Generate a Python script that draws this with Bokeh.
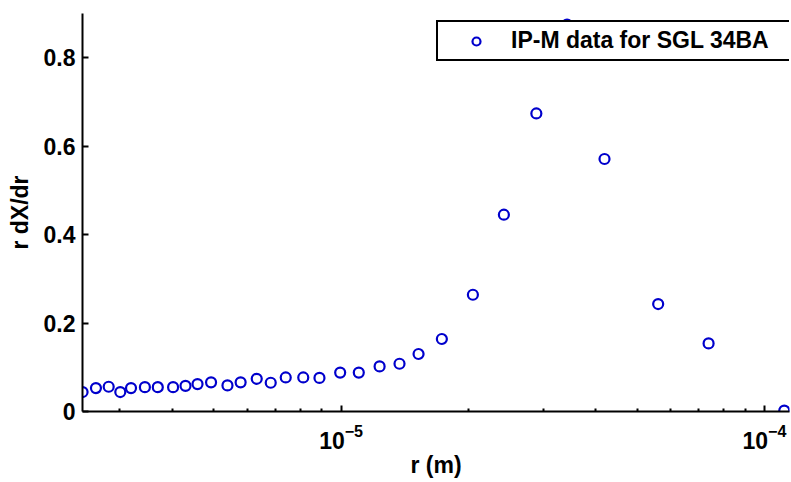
from bokeh.plotting import figure
from bokeh.models import (ColumnDataSource, FixedTicker, LogTickFormatter,
                          CustomJSTickFormatter, Range1d, Legend, LegendItem)
from bokeh.embed import file_html
from bokeh.resources import INLINE

# ---- data ----
r_m = [2.451e-6, 2.636e-6, 2.825e-6, 3.009e-6, 3.19e-6, 3.44e-6, 3.69e-6,
       4.01e-6, 4.29e-6, 4.58e-6, 4.93e-6, 5.39e-6, 5.79e-6, 6.32e-6,
       6.82e-6, 7.40e-6, 8.14e-6, 8.89e-6, 9.95e-6, 1.101e-5, 1.233e-5,
       1.374e-5, 1.524e-5, 1.73e-5, 2.048e-5, 2.424e-5, 2.892e-5, 3.418e-5,
       4.19e-5, 5.61e-5, 7.38e-5, 1.114e-4]
r_dXdr = [0.044, 0.053, 0.056, 0.044, 0.053, 0.055, 0.055, 0.055, 0.058,
          0.062, 0.066, 0.059, 0.066, 0.074, 0.065, 0.077, 0.077, 0.076,
          0.088, 0.088, 0.102, 0.108, 0.130, 0.164, 0.264, 0.445, 0.674,
          0.875, 0.571, 0.243, 0.154, 0.002]
series_label = "IP-M data for SGL 34BA"
x_major_ticks = [1e-5, 1e-4]
x_minor_ticks = [2e-6, 3e-6, 4e-6, 5e-6, 6e-6, 7e-6, 8e-6, 9e-6,
                 2e-5, 3e-5, 4e-5, 5e-5, 6e-5, 7e-5, 8e-5, 9e-5]
y_ticks = [0, 0.2, 0.4, 0.6, 0.8]

FONT = "Liberation Sans"
BLUE = "#0000cc"

src = ColumnDataSource(dict(x=r_m, y=r_dXdr))

p = figure(width=791, height=482, x_axis_type="log",
           x_range=Range1d(2.45e-6, 1.146e-4), y_range=Range1d(0, 0.9),
           output_backend="svg", toolbar_location=None,
           min_border_left=82, min_border_right=2, min_border_top=13,
           min_border_bottom=71)
p.outline_line_color = None
p.grid.visible = False
p.background_fill_color = "white"
p.border_fill_color = "white"

r = p.scatter("x", "y", source=src, marker="circle", size=10,
              fill_color=None, line_color=BLUE, line_width=2.2)

# axes
xa = p.xaxis[0]
xa.ticker = FixedTicker(ticks=x_major_ticks, minor_ticks=x_minor_ticks)
xa.formatter = LogTickFormatter()
ya = p.yaxis[0]
ya.ticker = FixedTicker(ticks=y_ticks)
ya.formatter = CustomJSTickFormatter(code="return tick == 0 ? '0' : tick.toFixed(1);")

for ax in (xa, ya):
    ax.axis_line_width = 2
    ax.axis_line_color = "black"
    ax.major_tick_line_width = 2
    ax.major_tick_line_color = "black"
    ax.minor_tick_line_width = 2
    ax.major_tick_in = 6
    ax.major_tick_out = 0
    ax.minor_tick_in = 3
    ax.minor_tick_out = 0
    ax.major_label_text_font = FONT
    ax.major_label_text_font_style = "bold"
    ax.major_label_text_font_size = "23px"
    ax.major_label_text_color = "black"
    ax.axis_label_text_font = FONT
    ax.axis_label_text_font_style = "bold"
    ax.axis_label_text_font_size = "23px"
    ax.axis_label_text_color = "black"

ya.minor_tick_line_color = None
xa.major_label_standoff = 12
ya.major_label_standoff = 7
xa.axis_label = "r (m)"
ya.axis_label = "r dX/dr"
xa.axis_label_standoff = 0
ya.axis_label_standoff = 8

legend = Legend(items=[LegendItem(label=series_label, renderers=[r])],
                location=(354, 350), padding=5, glyph_width=66,
                glyph_height=20, label_standoff=2, label_width=281,
                label_text_font=FONT, label_text_font_style="bold",
                label_text_font_size="23px", label_text_color="black",
                border_line_color="black", border_line_width=2,
                border_line_alpha=1,
                background_fill_color="white", background_fill_alpha=1,
                margin=0, spacing=0)
p.add_layout(legend, "center")

open("out.html", "w").write(file_html(p, INLINE))
